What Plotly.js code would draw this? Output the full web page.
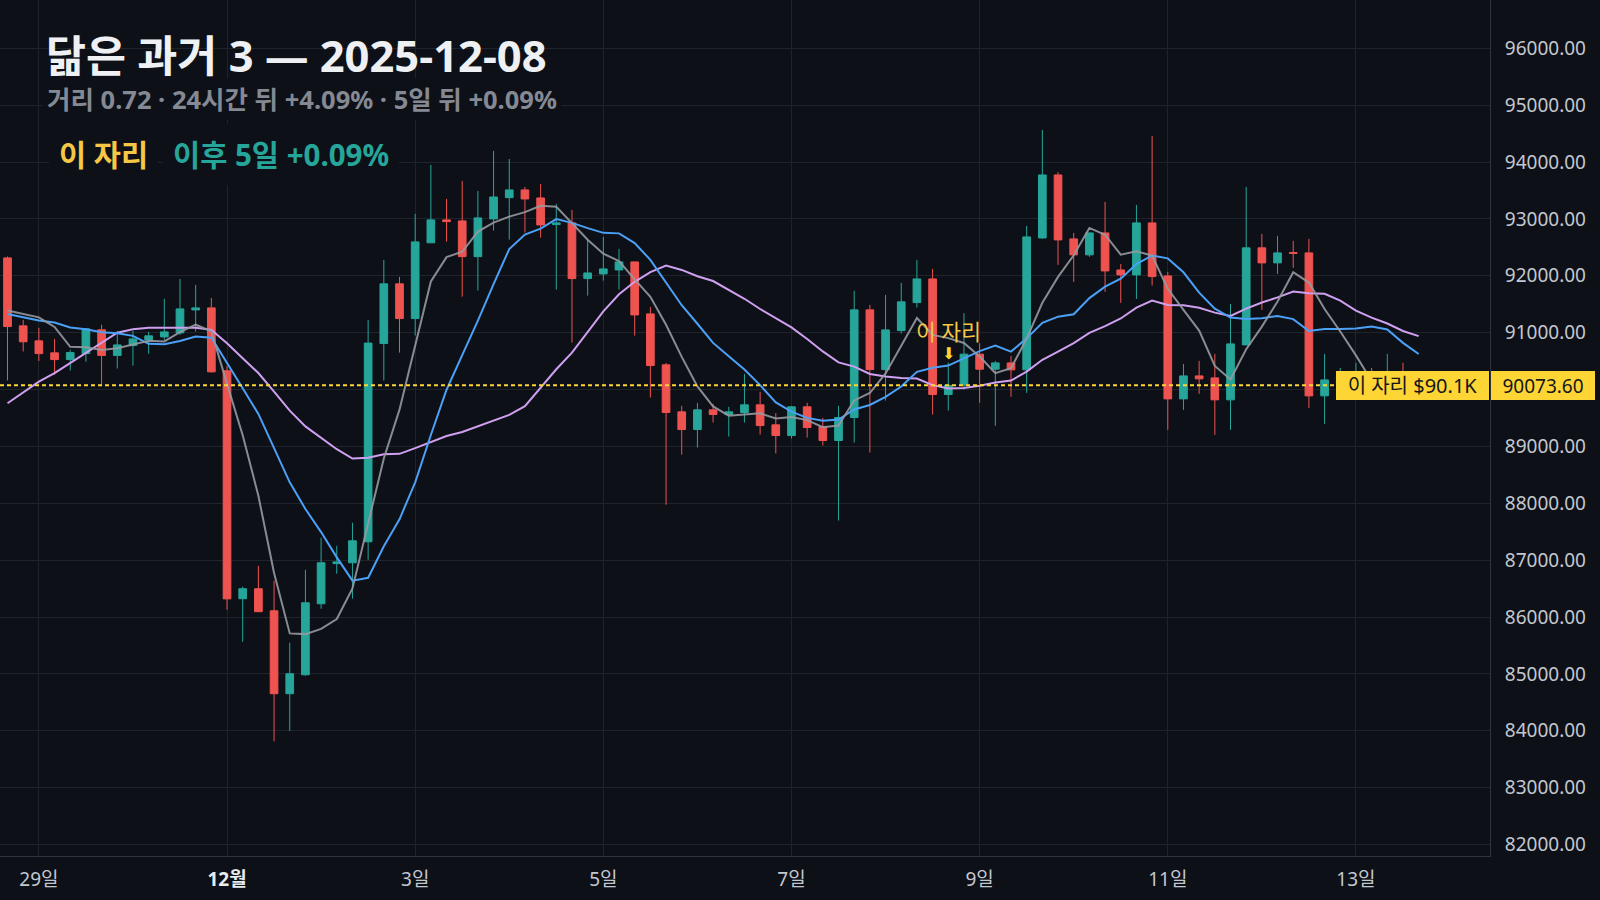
<!DOCTYPE html>
<html>
<head>
<meta charset="utf-8">
<script src="https://cdn.plot.ly/plotly-3.0.1.min.js"></script>
<style>
  html, body { margin: 0; padding: 0; background: #0d1017; }
  #chart { width: 1600px; height: 900px; }
</style>
</head>
<body>
<div id="chart"></div>
<script>
// 4시간 봉, 2025-11-28 16:00 (UTC) 부터 91개
const START = Date.UTC(2025, 10, 28, 16);
const STEP_H = 4;
const MARK = 60; // "이 자리" 봉

const opens = [
  92315, 91120, 90856, 90645, 90527, 90632, 91050, 90600, 90773, 90873,
  90926, 90996, 91400, 91436, 90330, 86322, 86498, 86111, 84652, 84985,
  86234, 86940, 86955, 87324, 90809, 91858, 91248, 92580, 92983, 92965,
  92337, 93000, 93374, 93510, 93369, 92900, 92930, 91951, 92033, 92103,
  92244, 91330, 90434, 89608, 89297, 89643, 89561, 89596, 89731, 89379,
  89191, 89696, 89350, 89104, 89508, 91401, 90351, 91037, 91529, 91945,
  89912, 90076, 90622, 90358, 90469, 90346, 92666, 93773, 92649, 92368,
  92754, 92103, 92016, 92930, 91998, 89836, 90240, 90205, 89819, 90785,
  92491, 92227, 92410, 92403, 89889, 90100, 90250, 90300, 90150, 90280,
  90150
];
const highs = [
  92340, 91225, 91085, 90890, 90700, 91080, 91140, 91030, 91030, 91015,
  91595, 91945, 91840, 91611, 90416, 86535, 86900, 86640, 85550, 86830,
  87394, 87253, 87657, 91221, 92280, 91981, 93088, 93949, 93351, 93668,
  93492, 94195, 94054, 93562, 93615, 93264, 93158, 92631, 92684, 92473,
  92250, 91453, 90469, 89713, 89766, 89748, 89696, 90275, 89959, 89585,
  89713, 89766, 89502, 89713, 91735, 91489, 91664, 91875, 92280, 92121,
  90474, 91343, 90817, 90504, 90592, 92877, 94564, 93826, 92754, 92760,
  93299, 92209, 93246, 94458, 92068, 90451, 90504, 90627, 91506, 93562,
  92737, 92702, 92614, 92649, 90627, 90380, 90470, 90380, 90627, 90470,
  90300
];
const lows = [
  90160, 90670, 90504, 90260, 90335, 90490, 90080, 90370, 90420, 90630,
  90873, 90960, 91020, 90300, 86130, 85565, 86094, 83817, 84000, 84968,
  86146, 86762, 86322, 87007, 90158, 90650, 90950, 92579, 92600, 91634,
  91740, 92794, 92636, 92759, 92671, 91757, 90826, 91652, 91915, 91757,
  90949, 89859, 87974, 88857, 88981, 89420, 89174, 89420, 89209, 88876,
  89139, 89156, 89016, 87697, 89069, 88893, 89807, 90984, 91441, 89561,
  89631, 90000, 89766, 89362, 89871, 89942, 92649, 92192, 91893, 92333,
  91717, 91524, 91594, 91828, 89291, 89643, 89924, 89203, 89291, 90780,
  91401, 92033, 92139, 89678, 89397, 89950, 90000, 89980, 90000, 89950,
  90000
];
const closes = [
  91107, 90840, 90632, 90527, 90650, 91067, 90600, 90785, 90890, 90944,
  91014, 91418, 91436, 90311, 86320, 86498, 86094, 84652, 85003, 86251,
  86955, 86970, 87341, 90817, 91858, 91248, 92596, 92983, 92953, 92337,
  93018, 93386, 93510, 93351, 92894, 92930, 91951, 92050, 92121, 92244,
  91312, 90422, 89596, 89297, 89643, 89561, 89608, 89731, 89367, 89191,
  89696, 89332, 89104, 89508, 91401, 90351, 91049, 91542, 91945, 89912,
  90073.6, 90622, 90358, 90469, 90346, 92684, 93773, 92631, 92368, 92754,
  92086, 92016, 92930, 91986, 89836, 90240, 90188, 89819, 90803, 92491,
  92227, 92403, 92395, 89889, 90170, 90250, 90300, 90150, 90280, 90150,
  90250
];

// 이동평균선
const ma5 = [
  91390, 91330, 91270, 91100, 90751, 90743, 90695, 90726, 90798, 90857,
  90847, 91010, 91140, 91025, 90100, 89197, 88132, 86775, 85713, 85700,
  85791, 85966, 86504, 87667, 88788, 89647, 90772, 91900, 92328, 92423,
  92777, 92935, 93041, 93120, 93232, 93214, 92927, 92635, 92389, 92259,
  91936, 91630, 91139, 90574, 90054, 89704, 89541, 89568, 89582, 89492,
  89519, 89463, 89338, 89366, 89808, 89939, 90283, 90770, 91258, 90960,
  90904, 90819, 90582, 90287, 90374, 90896, 91526, 91981, 92360, 92842,
  92722, 92371, 92431, 92354, 91771, 91402, 91036, 90414, 90177, 90708,
  91106, 91549, 92064, 91881, 91417, 91021, 90601, 90152, 90230, 90226,
  90226
];
const ma10 = [
  91330, 91272, 91213, 91178, 91090, 91062, 91009, 90991, 90944, 90804,
  90795, 90853, 90933, 90912, 90479, 90022, 89571, 88958, 88369, 87900,
  87494, 87049, 86640, 86690, 87244, 87719, 88369, 89202, 89997, 90606,
  91212, 91854, 92471, 92724, 92828, 92996, 92931, 92838, 92755, 92746,
  92575, 92279, 91887, 91482, 91157, 90820, 90585, 90354, 90078, 89773,
  89611, 89502, 89453, 89474, 89650, 89729, 89873, 90054, 90312, 90384,
  90422, 90551, 90676, 90772, 90667, 90900, 91173, 91281, 91324, 91608,
  91809, 91949, 92206, 92357, 92306, 92062, 91704, 91422, 91266, 91240,
  91254, 91292, 91239, 91029, 91063, 91064, 91075, 91108, 91056, 90821,
  90624
];
const ma20 = [
  89760, 89955, 90140, 90290, 90465, 90640, 90815, 91000, 91060, 91085,
  91085, 91085, 91085, 91050, 90815, 90550, 90290, 89965, 89630, 89352,
  89144, 88951, 88786, 88801, 88861, 88870, 88970, 89080, 89183, 89253,
  89353, 89451, 89555, 89707, 90036, 90357, 90650, 91020, 91376, 91676,
  91894, 92066, 92179, 92103, 91992, 91908, 91758, 91596, 91416, 91259,
  91093, 90890, 90670, 90478, 90403, 90274, 90229, 90204, 90195, 90078,
  90017, 90027, 90065, 90123, 90158, 90315, 90523, 90668, 90818, 90996,
  91115, 91250, 91441, 91565, 91487, 91481, 91438, 91352, 91295, 91424,
  91531, 91620, 91722, 91693, 91684, 91563, 91389, 91265, 91161, 91030,
  90939
];

const tickVals = ['2025-11-29', '2025-12-01', '2025-12-03', '2025-12-05',
  '2025-12-07', '2025-12-09', '2025-12-11', '2025-12-13'];
const tickText = ['29일', '<span style="color:#e9ebef"><b>12월</b></span>', '3일', '5일',
  '7일', '9일', '11일', '13일'];

const priceTicks = [82000, 83000, 84000, 85000, 86000, 87000, 88000, 89000,
  90000, 91000, 92000, 93000, 94000, 95000, 96000];

const BG = '#0d1017';
const GRID = '#1f232b';
const AXIS = '#30343d';
const UP = '#26a69a';
const DOWN = '#ef5350';
const GOLD = '#fdd535';
const GOLD_TXT = '#f6c744';
const FONT = "'Noto Sans', 'Noto Sans CJK KR', sans-serif";

// 그림 영역 픽셀 -> paper 좌표
const PW = 1490, PH = 856;
const px = (v) => v / PW;
const py = (v) => 1 - v / PH;

function stamp(ms) {
  return new Date(ms).toISOString().slice(0, 16).replace('T', ' ');
}
const times = closes.map((_, i) => stamp(START + i * STEP_H * 3600e3));

const markPrice = closes[MARK];

// 가격 라벨 박스에 가려지는 눈금 글자는 비워 둔다
const priceTickText = priceTicks.map((v) =>
  Math.abs(v - markPrice) < 400 ? '' : v.toFixed(2)
);

var candles = {
  type: 'candlestick',
  x: times,
  open: opens,
  high: highs,
  low: lows,
  close: closes,
  increasing: { line: { color: UP, width: 1 }, fillcolor: UP },
  decreasing: { line: { color: DOWN, width: 1 }, fillcolor: DOWN },
  hoverinfo: 'skip',
};

function maLine(vals, color) {
  return {
    type: 'scatter',
    mode: 'lines',
    x: times,
    y: vals,
    line: { color: color, width: 2 },
    hoverinfo: 'skip',
  };
}

var traces = [
  candles,
  maLine(ma20, '#cf9ff0'),
  maLine(ma10, '#4ba0f7'),
  maLine(ma5, 'rgba(150,153,160,0.9)'),
];

var layout = {
  width: 1600,
  height: 900,
  paper_bgcolor: BG,
  plot_bgcolor: BG,
  margin: { l: 0, r: 110, t: 0, b: 44 },
  showlegend: false,
  font: { family: FONT, color: '#c3c7cf' },
  title: {
    text: '닮은 과거 3 — 2025-12-08',
    xref: 'container',
    yref: 'container',
    x: 46 / 1600,
    y: 1 - 57 / 900,
    xanchor: 'left',
    yanchor: 'middle',
    font: { family: FONT, size: 43.5, color: '#eef0f4', weight: 700 },
  },
  xaxis: {
    type: 'date',
    range: ['2025-11-28 14:05', '2025-12-14 10:12'],
    rangeslider: { visible: false },
    tickmode: 'array',
    tickvals: tickVals,
    ticktext: tickText,
    tickfont: { size: 19, color: '#c3c7cf' },
    ticks: 'outside',
    ticklen: 6,
    tickcolor: 'rgba(0,0,0,0)',
    showgrid: true,
    gridcolor: GRID,
    gridwidth: 1,
    showline: true,
    linecolor: AXIS,
    linewidth: 1,
    zeroline: false,
    fixedrange: true,
  },
  yaxis: {
    side: 'right',
    range: [81799, 96849],
    tickmode: 'array',
    tickvals: priceTicks,
    ticktext: priceTickText,
    tickfont: { size: 19, color: '#c3c7cf' },
    ticks: 'outside',
    ticklen: 10,
    tickcolor: 'rgba(0,0,0,0)',
    showgrid: true,
    gridcolor: GRID,
    gridwidth: 1,
    showline: true,
    linecolor: AXIS,
    linewidth: 1,
    zeroline: false,
    fixedrange: true,
  },
  shapes: [
    {
      // NOTE: 기준 가격 점선
      type: 'line',
      layer: 'above',
      xref: 'paper',
      x0: 0,
      x1: px(1336),
      yref: 'y',
      y0: markPrice,
      y1: markPrice,
      line: { color: GOLD, width: 2, dash: '4px,3px' },
    },
  ],
  annotations: [
    {
      xref: 'paper', yref: 'paper',
      x: px(47 - 4), y: py(99),
      xanchor: 'left', yanchor: 'middle',
      text: '거리 0.72 · 24시간 뒤 +4.09% · 5일 뒤 +0.09%',
      showarrow: false,
      bgcolor: BG, borderpad: 4, borderwidth: 0,
      font: { size: 25.5, color: '#848993', weight: 700 },
    },
    {
      xref: 'paper', yref: 'paper',
      x: px(59 - 10), y: py(154),
      xanchor: 'left', yanchor: 'middle',
      text: '이 자리',
      showarrow: false,
      bgcolor: BG, borderpad: 10, borderwidth: 0,
      font: { size: 29.5, color: GOLD_TXT, weight: 700 },
    },
    {
      xref: 'paper', yref: 'paper',
      x: px(173 - 10), y: py(154),
      xanchor: 'left', yanchor: 'middle',
      text: '이후 5일 +0.09%',
      showarrow: false,
      bgcolor: BG, borderpad: 10, borderwidth: 0,
      font: { size: 29.5, color: UP, weight: 700 },
    },
    {
      // 봉 위 표시
      x: times[MARK], y: highs[MARK],
      xref: 'x', yref: 'y',
      yanchor: 'middle', yshift: 31,
      text: '이 자리',
      showarrow: false,
      font: { size: 21.5, color: GOLD_TXT },
    },
    {
      x: times[MARK], y: highs[MARK],
      xref: 'x', yref: 'y',
      yanchor: 'middle', yshift: 9,
      text: '⬇',
      showarrow: false,
      font: { family: 'DejaVu Sans', size: 16, color: GOLD },
    },
    {
      xref: 'paper', yref: 'y',
      x: px(1336), y: markPrice,
      xanchor: 'left', yanchor: 'middle',
      text: '이 자리 $' + (markPrice / 1000).toFixed(1) + 'K',
      showarrow: false,
      width: 153, height: 29,
      bgcolor: GOLD, borderpad: 0, borderwidth: 0,
      font: { size: 20, color: '#15171b' },
    },
    {
      xref: 'paper', yref: 'y',
      x: px(1491), y: markPrice,
      xanchor: 'left', yanchor: 'middle',
      text: markPrice.toFixed(2),
      showarrow: false,
      width: 104, height: 29,
      bgcolor: GOLD, borderpad: 0, borderwidth: 0,
      font: { size: 19, color: '#15171b' },
    },
  ],
};

var config = { displayModeBar: false, staticPlot: true };

Plotly.newPlot('chart', traces, layout, config);
</script>
</body>
</html>
